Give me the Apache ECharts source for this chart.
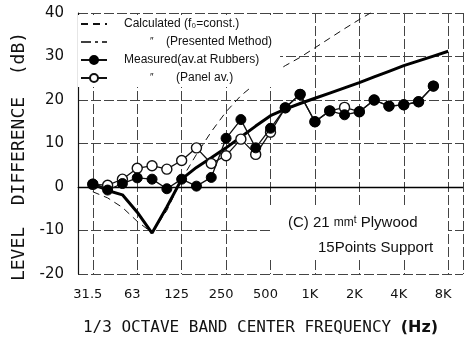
<!DOCTYPE html>
<html>
<head>
  <meta charset="UTF-8">
  <title>Level difference - 21mm plywood</title>
  <script src="https://cdn.jsdelivr.net/npm/echarts@6/dist/echarts.min.js"></script>
  <style>
    html, body { margin: 0; padding: 0; background: #fff; }
    #chart { width: 466px; height: 341px; }
  </style>
</head>
<body>
<div id="chart"></div>
<script>
// 1/3 octave bands, one extra band on each side so the plot edges match
var bands = ['25', '31.5', '40', '50', '63', '80', '100', '125', '160', '200', '250', '315', '400',
  '500', '630', '800', '1K', '1.25K', '1.6K', '2K', '2.5K', '3.15K', '4K', '5K', '6.3K', '8K', '10K'];
var octaveLabels = ['31.5', '63', '125', '250', '500', '1K', '2K', '4K', '8K'];

// values in dB, aligned with bands
var calculated = [null, -1.1, -2.5, -4.7, -7.9, -10.5, -5.4, 1.8, 7.5, 12.7, 17.3, 21.0, 23.8,
  25.8, 27.9, 29.8, 32.0, 34.2, 36.4, 38.5, 40.5, 42.5, null, null, null, null, null];
var presented = [null, 0.7, -0.8, -1.8, -5.8, -10.6, -4.6, 1.8, 4.5, 6.7, 9.0, 11.5, 14.0,
  16.4, 17.9, 19.2, 20.4, 21.6, 22.8, 24.0, 25.3, 26.6, 27.9, 29.0, 30.1, 31.2, null];
var measuredRubbers = [null, 0.7, -0.7, 0.8, 2.1, 1.8, -0.4, 1.8, 0.2, 2.2, 11.2, 15.5, 9.0,
  13.5, 18.2, 21.3, 15.0, 17.5, 16.6, 17.3, 20.0, 18.6, 18.9, 19.6, 23.2, null, null];
var measuredPanel = [null, 0.6, 0.4, 1.8, 4.3, 4.9, 4.1, 6.1, 9.0, 5.4, 7.2, 11.0, 7.5,
  12.6, 18.2, 21.3, 15.0, 17.5, 18.3, 17.3, 20.0, 18.6, 18.9, 19.6, 23.2, null, null];

var yTicks = { min: -20, max: 40, step: 10 };

function isOctave(i) {
  return octaveLabels.indexOf(bands[i]) >= 0;
}

var chart = echarts.init(document.getElementById('chart'), null, { renderer: 'canvas' });

var gridColor = '#444';
var option = {
  backgroundColor: '#fff',
  animation: false,
  grid: { left: 78, top: 13, right: 3, bottom: 63 },
  legend: {
    left: 78,
    top: 15,
    orient: 'vertical',
    padding: [3, 8, 3, 2],
    itemGap: 6,
    itemWidth: 26,
    itemHeight: 10,
    selectedMode: false,
    backgroundColor: '#fff',
    data: [
      { name: 'Calculated (f₀=const.)', itemStyle: { opacity: 0 } },
      { name: '″ (Presented Method)', itemStyle: { opacity: 0 },
        lineStyle: { width: 1.3, color: '#000', type: [10, 4, 3, 4] } },
      { name: 'Measured(av.at Rubbers)' },
      { name: '″ (Panel av.)' }
    ],
    formatter: function (name) {
      if (name === '″ (Presented Method)') return '{sp| }{q|″}{t|(Presented Method)}';
      if (name === '″ (Panel av.)') return '{sp| }{q2|″}{t|(Panel av.)}';
      return '{a| }{t|' + name + '}';
    },
    textStyle: {
      color: '#111',
      fontFamily: 'Liberation Sans',
      fontSize: 12,
      rich: {
        a: { width: 12 },
        sp: { width: 38 },
        q: { width: 16, fontSize: 10 },
        q2: { width: 26, fontSize: 10 },
        t: { fontSize: 12, fontFamily: 'Liberation Sans', color: '#111' }
      }
    }
  },
  xAxis: {
    type: 'category',
    data: bands,
    boundaryGap: false,
    name: '1/3 OCTAVE BAND CENTER FREQUENCY {b|(Hz)}',
    nameLocation: 'middle',
    nameGap: 46,
    nameTextStyle: {
      color: '#111',
      fontFamily: 'DejaVu Sans Mono',
      fontSize: 16,
      padding: [0, 20, 0, 0],
      rich: { b: { fontFamily: 'DejaVu Sans', fontWeight: 'bold', fontSize: 16, color: '#111' } }
    },
    axisLine: { show: true, lineStyle: { color: '#222', width: 1 } },
    axisTick: { show: false },
    axisLabel: {
      interval: function (i) { return isOctave(i); },
      color: '#111',
      fontFamily: 'DejaVu Sans',
      fontSize: 13,
      margin: 14,
      padding: [0, 10, 0, 0]
    },
    splitLine: {
      show: true,
      interval: function (i) { return isOctave(i) || i === bands.length - 1; },
      lineStyle: { color: gridColor, width: 1, type: [10, 3] }
    }
  },
  yAxis: {
    type: 'value',
    min: yTicks.min,
    max: yTicks.max,
    interval: yTicks.step,
    name: 'LEVEL  DIFFERENCE  (dB){e| }',
    nameLocation: 'middle',
    nameGap: 50,
    nameTextStyle: {
      color: '#111',
      fontFamily: 'DejaVu Sans Mono',
      fontSize: 18,
      rich: { e: { width: 26, fontSize: 18 } }
    },
    axisLine: { show: true, lineStyle: { color: '#111', width: 1.2 } },
    axisTick: { show: false },
    axisLabel: { color: '#111', fontFamily: 'DejaVu Sans', fontSize: 15, margin: 14 },
    splitLine: { show: true, lineStyle: { color: gridColor, width: 1, type: [10, 3] } }
  },
  series: [
    {
      name: 'Calculated (f₀=const.)',
      type: 'line',
      data: calculated,
      symbol: 'none',
      lineStyle: { color: '#111', width: 1, type: [7, 5] },
      itemStyle: { color: '#111' },
      z: 2
    },
    {
      name: '″ (Presented Method)',
      type: 'line',
      data: presented,
      symbol: 'none',
      lineStyle: { color: '#000', width: 3 },
      itemStyle: { color: '#000' },
      z: 3
    },
    {
      name: '″ (Panel av.)',
      type: 'line',
      data: measuredPanel,
      symbol: 'circle',
      symbolSize: 10,
      showAllSymbol: true,
      lineStyle: { color: '#111', width: 1.3 },
      itemStyle: { color: '#fff', borderColor: '#111', borderWidth: 1.4 },
      z: 4
    },
    {
      name: 'Measured(av.at Rubbers)',
      type: 'line',
      data: measuredRubbers,
      symbol: 'circle',
      symbolSize: 10,
      showAllSymbol: true,
      lineStyle: { color: '#111', width: 1.3 },
      itemStyle: { color: '#000', borderColor: '#000', borderWidth: 1 },
      markLine: {
        silent: true,
        symbol: 'none',
        label: { show: false },
        lineStyle: { color: '#000', width: 1.3, type: 'solid' },
        data: [{ yAxis: 0 }]
      },
      z: 5
    }
  ],
  graphic: [
    {
      type: 'rect',
      left: 270,
      top: 208,
      shape: { width: 178, height: 50 },
      style: { fill: '#fff' },
      z: 10
    },
    {
      type: 'text',
      left: 288,
      top: 215,
      z: 11,
      style: {
        text: '(C) 21 {m|mm}{s|t} Plywood',
        fill: '#111',
        font: '15px "Liberation Sans"',
        rich: {
          m: { fontSize: 12, fontFamily: 'Liberation Sans', fill: '#111' },
          s: { fontSize: 10, fontFamily: 'Liberation Sans', verticalAlign: 'top', fill: '#111' }
        }
      }
    },
    {
      type: 'text',
      left: 318,
      top: 240,
      z: 11,
      style: { text: '15Points Support', fill: '#111', font: '15px "Liberation Sans"' }
    }
  ]
};

chart.setOption(option);
</script>
</body>
</html>
